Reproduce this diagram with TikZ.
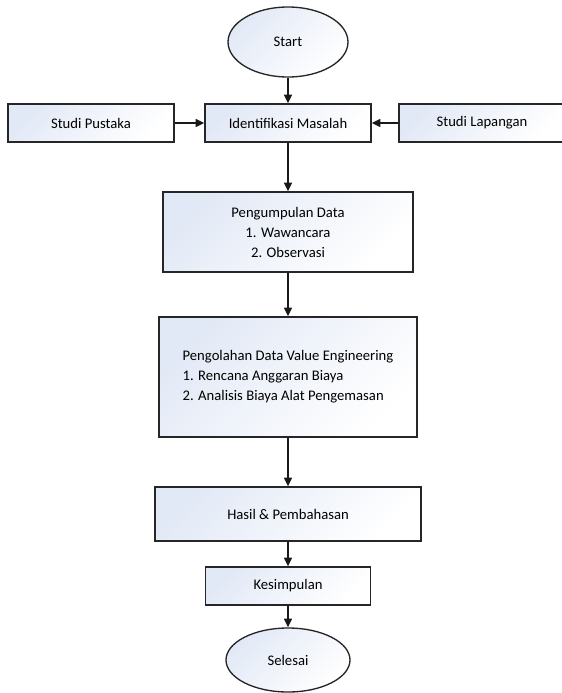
\documentclass[tikz,border=0pt]{standalone}
\usepackage{fontspec}
\setmainfont{Carlito}
\usepackage{xcolor}
\usetikzlibrary{shapes.geometric, arrows.meta, positioning}

\definecolor{boxblue}{RGB}{226,233,246}

\begin{document}
\begin{tikzpicture}[
    x=0.75pt, y=-0.75pt,
    box/.style={rectangle, draw=black!85, line width=1pt, top color=boxblue, bottom color=white, shading angle=45, align=center, inner sep=2pt, font=\fontsize{11}{15}\selectfont},
    term/.style={ellipse, draw=black!85, line width=1pt, top color=boxblue, bottom color=white, shading angle=45, inner sep=0pt, font=\fontsize{11}{15}\selectfont},
    flow/.style={-{Triangle[width=6pt,length=6.5pt]}, line width=1.1pt, black!90}
]
    \useasboundingbox (0,0) rectangle (561,693);

    % Start and first row
    \node[term, minimum width=90pt, minimum height=52.5pt] (start) at (288,42) {Start};
    \node[box, minimum width=124.5pt, minimum height=28.5pt] (pustaka) at (91,123) {Studi Pustaka};
    \node[box, minimum width=124.5pt, minimum height=28.5pt] (identifikasi) at (288,123) {Identifikasi Masalah};
    \node[box, minimum width=124.5pt, minimum height=28.5pt] (lapangan) at (482,123) {Studi Lapangan};

    % Main steps
    \node[box, minimum width=187.5pt, minimum height=60pt] (pengumpulan) at (288,232) {Pengumpulan Data\\1. Wawancara\\2. Observasi};
    \node[box, align=left, minimum width=193.5pt, minimum height=90pt] (pengolahan) at (288,377) {Pengolahan Data Value Engineering\\1. Rencana Anggaran Biaya\\2. Analisis Biaya Alat Pengemasan};
    \node[box, minimum width=199.5pt, minimum height=40.5pt] (hasil) at (288,514) {Hasil \& Pembahasan};
    \node[box, minimum width=123.75pt, minimum height=28.5pt] (kesimpulan) at (288,586) {Kesimpulan};
    \node[term, minimum width=93pt, minimum height=48pt] (selesai) at (288,660) {Selesai};

    % Arrows
    \draw[flow] (start.south) -- (identifikasi.north);
    \draw[flow] (pustaka.east) -- (identifikasi.west);
    \draw[flow] (lapangan.west) -- (identifikasi.east);
    \draw[flow] (identifikasi.south) -- (pengumpulan.north);
    \draw[flow] (pengumpulan.south) -- (pengolahan.north);
    \draw[flow] (pengolahan.south) -- (hasil.north);
    \draw[flow] (hasil.south) -- (kesimpulan.north);
    \draw[flow] (kesimpulan.south) -- (selesai.north);
\end{tikzpicture}
\end{document}
